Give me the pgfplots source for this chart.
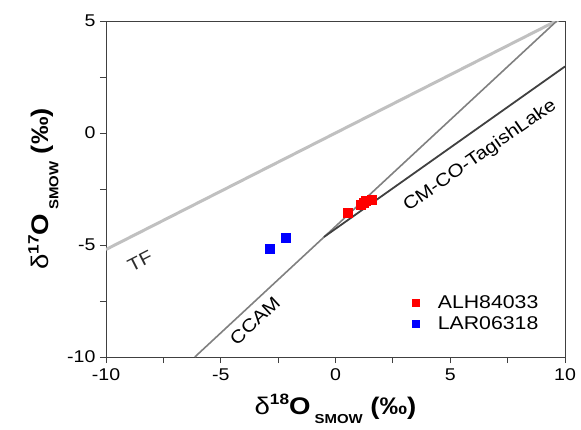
\documentclass[border=0pt]{standalone}
\usepackage{fontspec}
\setmainfont{Liberation Sans}[FakeStretch=1.15]
\usepackage{pgfplots}
\pgfplotsset{compat=1.18}
\definecolor{tfgray}{HTML}{C0C0C0}
\definecolor{ccgray}{HTML}{808080}
\definecolor{dkgray}{HTML}{404040}
\begin{document}
\begin{tikzpicture}
\path[use as bounding box] (-106pt,-72pt) rectangle (475pt,357pt);
\begin{axis}[
  at={(0,0)}, anchor=south west,
  scale only axis, width=459pt, height=336pt,
  xmin=-10, xmax=10, ymin=-10, ymax=5,
  xtick={-10,-5,0,5,10}, ytick={-10,-5,0,5},
  minor xtick={-7.5,-2.5,2.5,7.5}, minor ytick={-7.5,-2.5,2.5},
  tick align=outside, xtick pos=bottom, ytick pos=left,
  major tick length=6pt, minor tick length=6pt,
  axis line style={draw=dkgray, line width=0.8pt},
  every tick/.style={draw=dkgray, line width=0.8pt},
  /pgf/number format/assume math mode=true,
  ticklabel style={font=\fontsize{17}{19}\selectfont},
  xticklabel style={yshift=-2pt},
  yticklabel style={xshift=-1pt},
  xlabel={\fontsize{24}{28}\selectfont δ\textbf{\raisebox{0.42em}{\fontsize{15}{16}\selectfont 18}O\,\raisebox{-0.4em}{\fontsize{13}{14}\selectfont SMOW} (‰)}},
  ylabel={\fontsize{24}{28}\selectfont δ\textbf{\raisebox{0.42em}{\fontsize{15}{16}\selectfont 17}O\,\raisebox{-0.4em}{\fontsize{13}{14}\selectfont SMOW} (‰)}},
  xlabel style={at={(0.5,0)}, anchor=north, yshift=-33pt},
  ylabel style={at={(0,0.5)}, anchor=south, yshift=44pt},
  legend style={at={(0.66,0.065)}, anchor=south west, draw=none, fill=none,
    font=\fontsize{18.5}{21}\selectfont, row sep=3pt},
  legend image code/.code={\node[inner sep=0pt, minimum size=0pt, draw=none, fill=none] at (0.9cm,0cm) {}; \draw[#1, mark size=3.6pt] plot coordinates {(0.2cm,0cm)};},
  legend cell align=left,
  clip=true,
]
\addplot[tfgray, line width=3pt, forget plot] coordinates {(-10,-5.2) (10,5.2)};
\addplot[ccgray, line width=1.6pt, forget plot] coordinates {(-6.13,-10) (9.64,5)};
\addplot[dkgray, line width=1.8pt, forget plot] coordinates {(-0.5,-4.64) (10,2.97)};
\addplot[only marks, mark=square*, mark size=4.5pt, red, mark options={draw=red, fill=red}] coordinates {
  (0.51,-3.58) (1.10,-3.22) (1.25,-3.1) (1.33,-3.03) (1.58,-2.96)};
\addlegendentry{ALH84033}
\addplot[only marks, mark=square*, mark size=4.5pt, blue, mark options={draw=blue, fill=blue}] coordinates {
  (-2.85,-5.18) (-2.17,-4.66)};
\addlegendentry{LAR06318}
\node[rotate=27, font=\fontsize{18}{21}\selectfont, text=dkgray!70!black] at (axis cs:-8.52,-5.71) {TF};
\node[rotate=43, font=\fontsize{18}{21}\selectfont] at (axis cs:-3.51,-8.38) {CCAM};
\node[rotate=35, font=\fontsize{18}{21}\selectfont] at (axis cs:6.3,-1.02) {CM-CO-TagishLake};
\end{axis}
\end{tikzpicture}
\end{document}
